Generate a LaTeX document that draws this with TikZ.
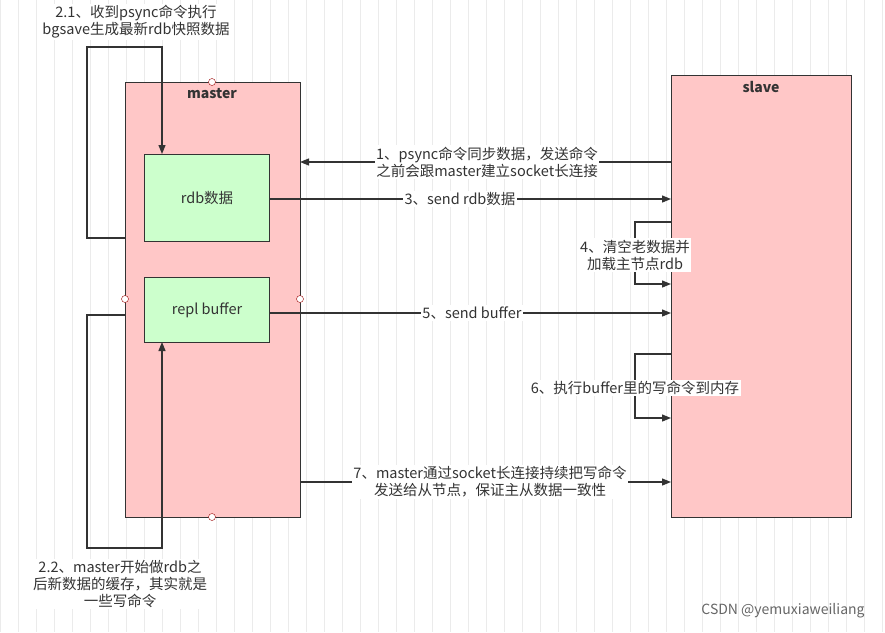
\documentclass[tikz,border=0pt]{standalone}
\usepackage{fontspec}
\setmainfont{Noto Sans CJK SC}
\usetikzlibrary{arrows.meta}
\tikzset{
  box/.style={draw=black!80,line width=1pt,anchor=north west,inner sep=0pt},
  flow/.style={draw=black!80,line width=1.2pt,-{Triangle[length=9pt,width=7pt]}},
  lbl/.style={fill=white,inner sep=1.5pt,align=center,font=\fontsize{14.5}{17}\selectfont,text=black!80},
  port/.style={circle,draw=red!60!black,fill=white,inner sep=0pt,minimum size=7pt}
}
\begin{document}
\begin{tikzpicture}[x=1pt,y=-1pt]
  \useasboundingbox (0,0) rectangle (885,632);
  \fill[white] (0,0) rectangle (885,632);
  \draw[black!8,step=18] (0,0) grid (885,632);

  \node[box,fill=red!22,minimum width=175pt,minimum height=435pt] (master) at (125,82) {};
  \node[font=\bfseries\fontsize{14}{16}\selectfont,text=black!80] at (212,94) {master};
  \node[box,fill=red!22,minimum width=180pt,minimum height=442pt] (slave) at (671,75) {};
  \node[font=\bfseries\fontsize{14}{16}\selectfont,text=black!80] at (761,87) {slave};
  \node[box,fill=green!20,minimum width=125pt,minimum height=87pt] (rdb) at (144,154) {};
  \node[font=\fontsize{14.5}{16}\selectfont,text=black!80] at (rdb.center) {rdb数据};
  \node[box,fill=green!20,minimum width=125pt,minimum height=65pt] (repl) at (144,277) {};
  \node[font=\fontsize{14.5}{16}\selectfont,text=black!80] at (repl.center) {repl buffer};

  \node[port] at (212,82) {};
  \node[port] at (212,517) {};
  \node[port] at (125,299) {};
  \node[port] at (300,299) {};

  % master self loops
  \coordinate (m21) at (125,238);
  \coordinate (m22) at (125,315);
  \draw[flow] (m21) -- (87,238) -- (87,47) -- (162,47) -- (162,154);
  \draw[flow] (m22) -- (87,315) -- (87,548) -- (162,548) -- (162,342);
  \node[lbl] at (136,22) {2.1、收到psync命令执行\\bgsave生成最新rdb快照数据};
  \node[lbl] at (120,584) {2.2、master开始做rdb之\\后新数据的缓存，其实就是\\一些写命令};

  % master -> slave
  \coordinate (s1) at (671,162);
  \coordinate (m1) at (300,162);
  \draw[flow] (s1) -- (m1);
  \node[lbl] at (487,162) {1、psync命令同步数据，发送命令\\之前会跟master建立socket长连接};
  \draw[flow] (rdb.east |- 0,199) -- (671,199);
  \node[lbl] at (460,199) {3、send rdb数据};
  \draw[flow] (repl.east |- 0,313) -- (671,313);
  \node[lbl] at (472,313) {5、send buffer};
  \draw[flow] (300,482) -- (671,482);
  \node[lbl] at (490,482) {7、master通过socket长连接持续把写命令\\发送给从节点，保证主从数据一致性};

  % slave self loops
  \draw[flow] (671,222) -- (635,222) -- (635,284) -- (671,284);
  \node[lbl] at (635,255) {4、清空老数据并\\加载主节点rdb};
  \draw[flow] (671,354) -- (635,354) -- (635,418) -- (671,418);
  \node[lbl] at (635,388) {6、执行buffer里的写命令到内存};

  \node[font=\fontsize{14}{16}\selectfont,text=black!60] at (783,611) {CSDN @yemuxiaweiliang};
\end{tikzpicture}
\end{document}
